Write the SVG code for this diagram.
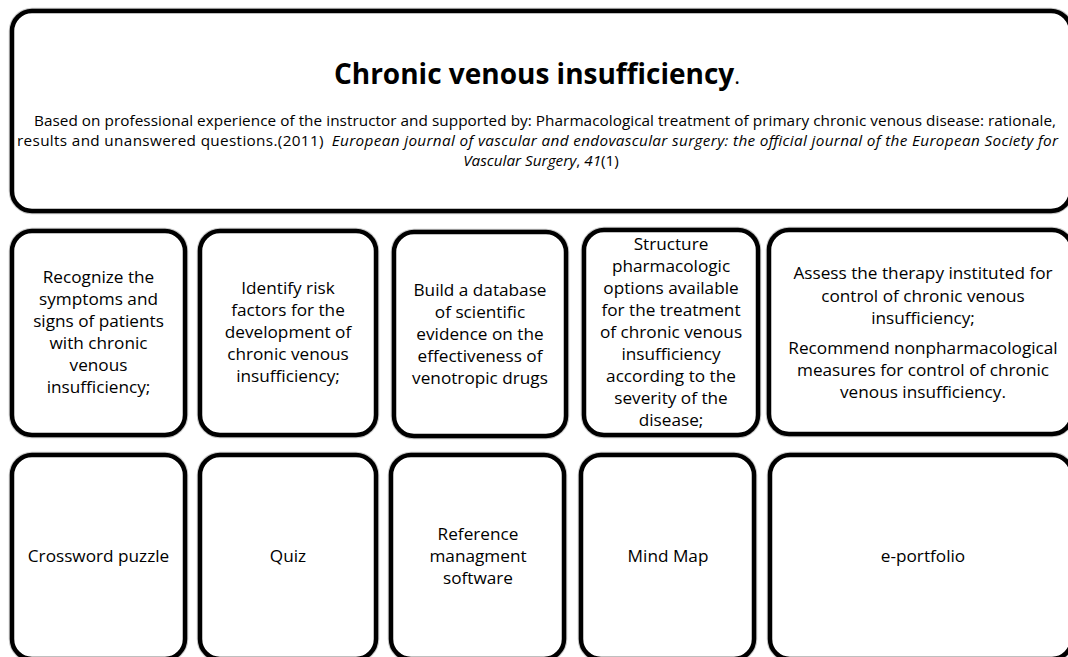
<svg xmlns="http://www.w3.org/2000/svg" width="1068" height="657" viewBox="0 0 1068 657">
<style>
.box{fill:#fff;stroke:#000;stroke-width:4.5}
.halo{fill:none;stroke:#c8c8c8;stroke-width:6.5}
.t{font-family:"Open Sans","Noto Sans",sans-serif;font-size:17.2px;fill:#000;text-anchor:middle}
.s{font-family:"Open Sans","Noto Sans",sans-serif;font-size:15.3px;fill:#000;text-anchor:middle}
.h{font-family:"Open Sans","Noto Sans",sans-serif;font-size:28px;font-weight:bold;fill:#000;text-anchor:middle}
.i{font-style:italic}
</style>
<rect width="1068" height="657" fill="#fff"/>
<g id="header">
<rect class="halo" x="12" y="11" width="1059" height="200" rx="20"/>
<rect class="box" x="12" y="11" width="1059" height="200" rx="20"/>
<text class="h" x="537" y="84">Chronic venous insufficiency<tspan font-weight="normal" font-size="22">.</tspan></text>
<text class="s" x="545" y="126" textLength="1022" lengthAdjust="spacing">Based on professional experience of the instructor and supported by: Pharmacological treatment of primary chronic venous disease: rationale,</text>
<text class="s" x="537.5" y="146" textLength="1041" lengthAdjust="spacing">results and unanswered questions.(2011)<tspan class="i" dx="8">European journal of vascular and endovascular surgery: the official journal of the European Society for</tspan></text>
<text class="s" x="541" y="166"><tspan class="i">Vascular Surgery</tspan>, <tspan class="i">41</tspan>(1)</text>
</g>
<g id="obj1">
<rect class="halo" x="12" y="231" width="173" height="204" rx="20"/>
<rect class="box" x="12" y="231" width="173" height="204" rx="20"/>
<text class="t" x="98.5" y="283">Recognize the<tspan x="98.5" dy="22">symptoms and</tspan><tspan x="98.5" dy="22">signs of patients</tspan><tspan x="98.5" dy="22">with chronic</tspan><tspan x="98.5" dy="22">venous</tspan><tspan x="98.5" dy="22">insufficiency;</tspan></text>
</g>
<g id="obj2">
<rect class="halo" x="200" y="231" width="176" height="204" rx="20"/>
<rect class="box" x="200" y="231" width="176" height="204" rx="20"/>
<text class="t" x="288" y="294">Identify risk<tspan x="288" dy="22">factors for the</tspan><tspan x="288" dy="22">development of</tspan><tspan x="288" dy="22">chronic venous</tspan><tspan x="288" dy="22">insufficiency;</tspan></text>
</g>
<g id="obj3">
<rect class="halo" x="394" y="232" width="172" height="204" rx="20"/>
<rect class="box" x="394" y="232" width="172" height="204" rx="20"/>
<text class="t" x="480" y="296">Build a database<tspan x="480" dy="22">of scientific</tspan><tspan x="480" dy="22">evidence on the</tspan><tspan x="480" dy="22">effectiveness of</tspan><tspan x="480" dy="22">venotropic drugs</tspan></text>
</g>
<g id="obj4">
<rect class="halo" x="584" y="230" width="174" height="205" rx="20"/>
<rect class="box" x="584" y="230" width="174" height="205" rx="20"/>
<text class="t" x="671" y="250">Structure<tspan x="671" dy="22">pharmacologic</tspan><tspan x="671" dy="22">options available</tspan><tspan x="671" dy="22">for the treatment</tspan><tspan x="671" dy="22">of chronic venous</tspan><tspan x="671" dy="22">insufficiency</tspan><tspan x="671" dy="22">according to the</tspan><tspan x="671" dy="22">severity of the</tspan><tspan x="671" dy="22">disease;</tspan></text>
</g>
<g id="obj5">
<rect class="halo" x="769" y="230" width="303" height="204" rx="20"/>
<rect class="box" x="769" y="230" width="303" height="204" rx="20"/>
<text class="t" x="923" y="279">Assess the therapy instituted for<tspan x="923" dy="22.5">control of chronic venous</tspan><tspan x="923" dy="22.5">insufficiency;</tspan><tspan x="923" dy="30">Recommend nonpharmacological</tspan><tspan x="923" dy="22">measures for control of chronic</tspan><tspan x="923" dy="22">venous insufficiency.</tspan></text>
</g>
<g id="act1">
<rect class="halo" x="12" y="455" width="173" height="204" rx="20"/>
<rect class="box" x="12" y="455" width="173" height="204" rx="20"/>
<text class="t" x="98.5" y="562">Crossword puzzle</text>
</g>
<g id="act2">
<rect class="halo" x="200" y="455" width="176" height="204" rx="20"/>
<rect class="box" x="200" y="455" width="176" height="204" rx="20"/>
<text class="t" x="288" y="562">Quiz</text>
</g>
<g id="act3">
<rect class="halo" x="391" y="455" width="173" height="204" rx="20"/>
<rect class="box" x="391" y="455" width="173" height="204" rx="20"/>
<text class="t" x="478" y="540">Reference<tspan x="478" dy="22">managment</tspan><tspan x="478" dy="22">software</tspan></text>
</g>
<g id="act4">
<rect class="halo" x="581" y="455" width="173" height="204" rx="20"/>
<rect class="box" x="581" y="455" width="173" height="204" rx="20"/>
<text class="t" x="668" y="562">Mind Map</text>
</g>
<g id="act5">
<rect class="halo" x="770" y="455" width="302" height="204" rx="20"/>
<rect class="box" x="770" y="455" width="302" height="204" rx="20"/>
<text class="t" x="923" y="562">e-portfolio</text>
</g>
<g id="connectors"></g>
</svg>
